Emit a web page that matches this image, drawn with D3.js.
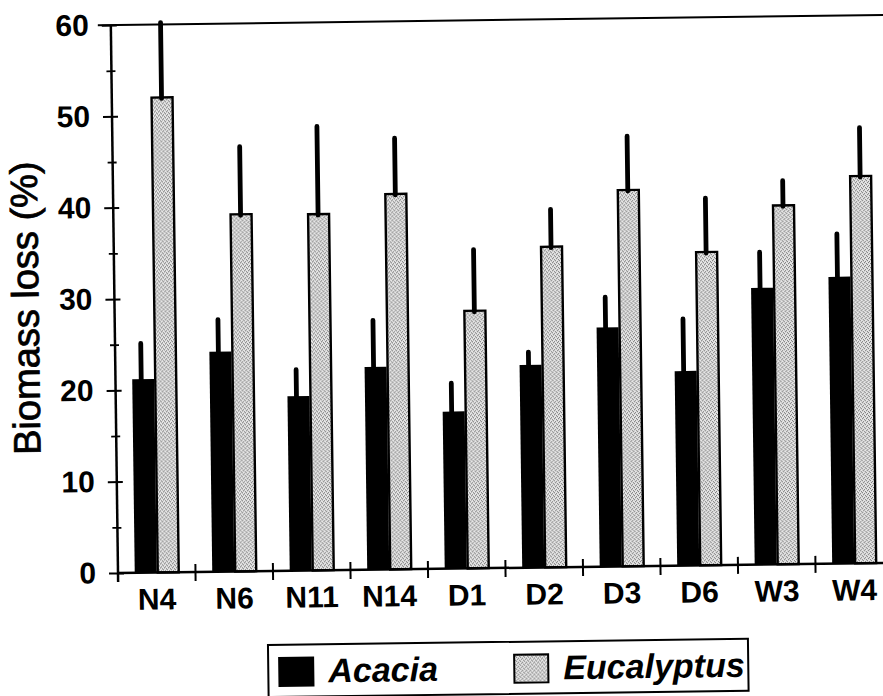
<!DOCTYPE html>
<html><head><meta charset="utf-8">
<script src="https://cdn.jsdelivr.net/npm/d3@7"></script>
<style>
html,body{margin:0;padding:0;background:#fff;}
svg{display:block;}
text{font-family:"Liberation Sans", Arial, Helvetica, sans-serif;fill:#000;}
</style></head><body>
<svg id="chart" width="883" height="696"></svg>
<script>
// ---- data ----
const categories = ["N4","N6","N11","N14","D1","D2","D3","D6","W3","W4"];
const seriesNames = ["Acacia","Eucalyptus"];
const acaciaValues = [21.2, 24.1, 19.1, 22.2, 17.2, 22.2, 26.2, 21.3, 30.3, 31.4];
const acaciaErrors = [3.9, 3.5, 2.9, 5.1, 3.1, 1.4, 3.3, 5.7, 3.9, 4.7];
const eucalyptusValues = [52.0, 39.1, 39.0, 41.1, 28.2, 35.1, 41.2, 34.3, 39.3, 42.4];
const eucalyptusErrors = [8.2, 7.4, 9.6, 6.1, 6.7, 4.1, 5.9, 5.9, 2.7, 5.3];
const yTicks = [0,10,20,30,40,50,60];
const yMinorTicks = [5,15,25,35,45,55];
const yLabel = "Biomass loss (%)";

// ---- layout ----
const svg = d3.select("#chart");
const x = d3.scaleBand().domain(categories).range([118, 893]).padding(0);
const sub = d3.scaleBand().domain(seriesNames).range([-22, 22]);
const y = d3.scaleLinear().domain([0, 60]).range([573, 25]);
const color = d3.scaleOrdinal().domain(seriesNames).range(["#000", "url(#stip)"]);

const defs = svg.append("defs");
const pat = defs.append("pattern").attr("id","stip").attr("patternUnits","userSpaceOnUse")
  .attr("width",4).attr("height",4);
pat.append("rect").attr("width",4).attr("height",4).attr("fill","#e6e6e6");
[[0,0],[2,1],[1,3],[3,2]].forEach(p=>pat.append("rect").attr("x",p[0]).attr("y",p[1])
  .attr("width",1).attr("height",1).attr("fill","#6a6a6a"));

const g = svg.append("g").attr("transform","rotate(-0.75 118 573)");

const data = [];
categories.forEach((c,i)=>{
  data.push({c, s:"Acacia", v:acaciaValues[i], e:acaciaErrors[i]});
  data.push({c, s:"Eucalyptus", v:eucalyptusValues[i], e:eucalyptusErrors[i]});
});
const cx = d => x(d.c) + x.bandwidth()/2 + sub(d.s);

// frame top line
g.append("line").attr("x1", 118-13).attr("x2", 893).attr("y1", y(60)).attr("y2", y(60))
  .attr("stroke","#000").attr("stroke-width",2);

// bars
g.selectAll("rect.bar").data(data).join("rect").attr("class","bar")
  .attr("x", d => cx(d) + (d.s==="Eucalyptus"?1:0))
  .attr("width", d => sub.bandwidth() - (d.s==="Eucalyptus"?1:0))
  .attr("y", d => y(d.v))
  .attr("height", d => y(0) - y(d.v))
  .attr("fill", d => color(d.s))
  .attr("stroke", d => d.s==="Eucalyptus" ? "#000" : "none")
  .attr("stroke-width", 2.4);

// error bars
g.selectAll("line.err").data(data).join("line").attr("class","err")
  .attr("x1", d => cx(d) + sub.bandwidth()/2 + (d.s==="Acacia"?-2:0))
  .attr("x2", d => cx(d) + sub.bandwidth()/2 + (d.s==="Acacia"?-2:0))
  .attr("y1", d => y(d.v) + 1)
  .attr("y2", d => y(Math.min(60.3, d.v + d.e)))
  .attr("stroke","#000").attr("stroke-width",4.8).attr("stroke-linecap","round");

// y axis
const yAxis = g.append("g").attr("transform","translate(118,0)")
  .call(d3.axisLeft(y).tickValues(yTicks).tickSize(9).tickPadding(13));
yAxis.select(".domain").remove();
yAxis.selectAll(".tick line").attr("x1",6).attr("stroke","#000").attr("stroke-width",2);
yAxis.selectAll(".tick text").attr("font-size",30).attr("font-weight","bold")
  .attr("font-family","Liberation Sans, Arial, sans-serif").attr("fill","#000");
const yMinor = g.append("g").attr("transform","translate(118,0)")
  .call(d3.axisLeft(y).tickValues(yMinorTicks).tickSize(5).tickFormat(""));
yMinor.select(".domain").remove();
yMinor.selectAll(".tick line").attr("x1",4).attr("stroke","#000").attr("stroke-width",1.8);
g.append("line").attr("x1",118).attr("x2",118).attr("y1",y(60)).attr("y2",y(0)+9)
  .attr("stroke","#000").attr("stroke-width",2.5);

// x axis
g.append("line").attr("x1",118).attr("x2",893).attr("y1",y(0)).attr("y2",y(0))
  .attr("stroke","#000").attr("stroke-width",2.5);
g.selectAll("line.xtick").data(categories.slice(1)).join("line").attr("class","xtick")
  .attr("x1", c => x(c)).attr("x2", c => x(c))
  .attr("y1", y(0)-8).attr("y2", y(0)+9)
  .attr("stroke","#000").attr("stroke-width",2);
g.selectAll("text.xlab").data(categories).join("text").attr("class","xlab")
  .attr("x", c => x(c) + x.bandwidth()/2).attr("y", 610)
  .attr("text-anchor","middle").attr("font-size",30).attr("font-weight","bold")
  .text(c => c);

// y label
g.append("text").attr("transform","translate(42,307) rotate(-90)")
  .attr("text-anchor","middle").attr("font-size",38)
  .attr("stroke","#000").attr("stroke-width",0.8)
  .text(yLabel);

// legend
const lg = g.append("g");
lg.append("rect").attr("x",267).attr("y",647).attr("width",480).attr("height",52)
  .attr("fill","#fff").attr("stroke","#000").attr("stroke-width",2);
const legendX = d3.scaleOrdinal().domain(seriesNames).range([278, 513]);
seriesNames.forEach(s=>{
  lg.append("rect").attr("x",legendX(s)).attr("y",660).attr("width",34).attr("height",28)
    .attr("fill",color(s)).attr("stroke","#000").attr("stroke-width",2);
  lg.append("text").attr("x",legendX(s)+49).attr("y",685)
    .attr("font-size",34).attr("font-weight","bold").attr("font-style","italic")
    .text(s);
});
</script>
</body></html>
